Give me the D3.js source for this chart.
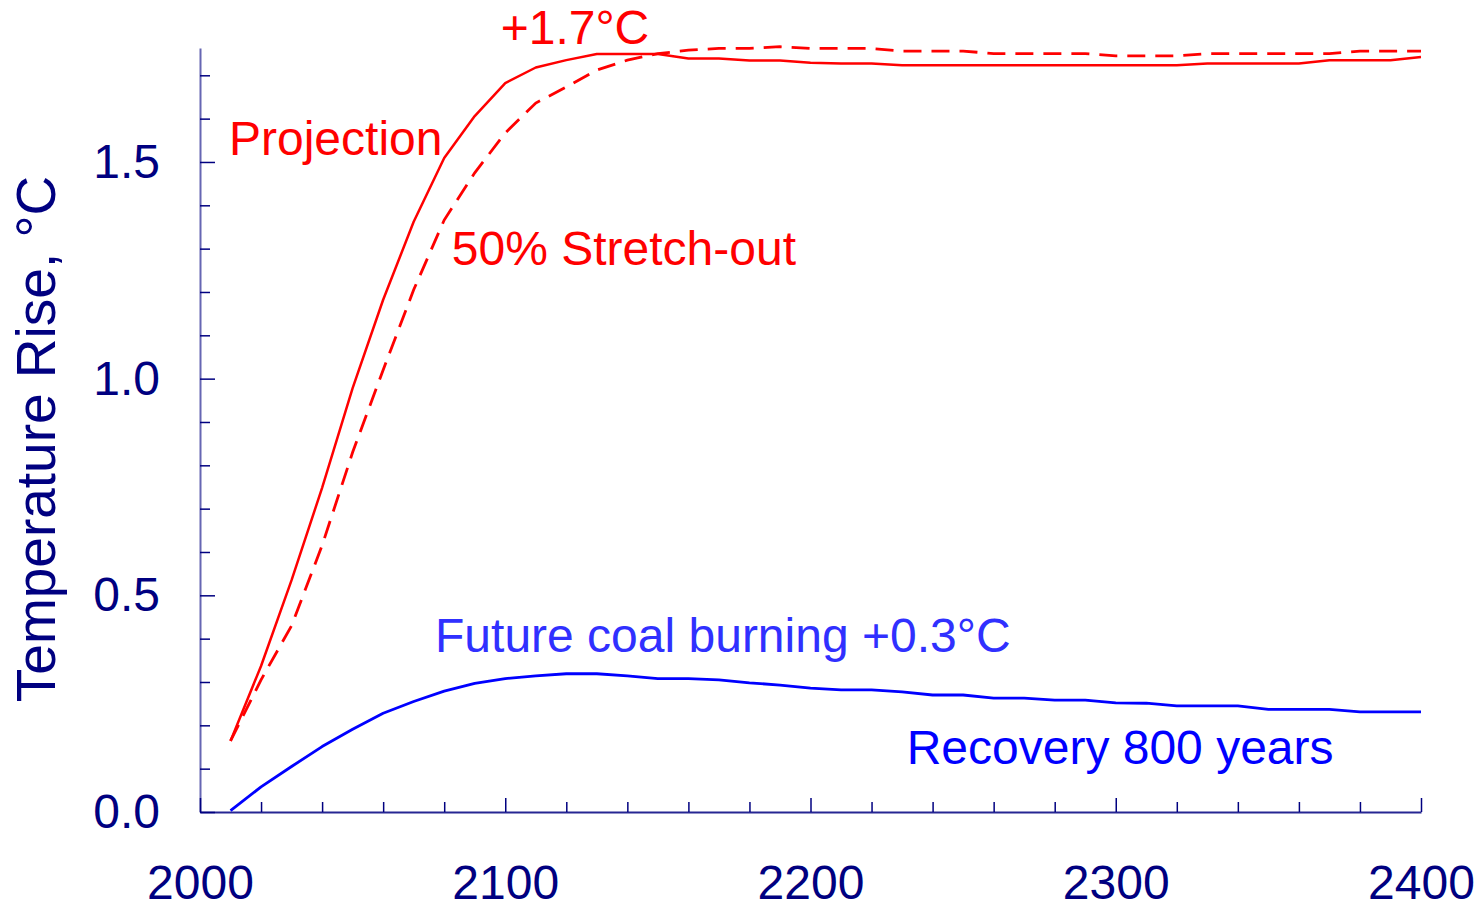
<!DOCTYPE html>
<html>
<head>
<meta charset="utf-8">
<script src="https://cdn.jsdelivr.net/npm/d3@7"></script>
<style>
  html, body { margin: 0; padding: 0; background: #fff; }
  svg { display: block; font-family: "Liberation Sans", Arial, sans-serif; }
</style>
</head>
<body>
<svg id="chart" width="1483" height="904"></svg>
<script>
const years = [2010,2020,2030,2040,2050,2060,2070,2080,2090,2100,
  2110,2120,2130,2140,2150,2160,2170,2180,2190,2200,
  2210,2220,2230,2240,2250,2260,2270,2280,2290,2300,
  2310,2320,2330,2340,2350,2360,2370,2380,2390,2400];

const projection = [0.164,0.337,0.535,0.748,0.978,1.182,1.362,1.509,1.606,1.682,
  1.718,1.735,1.749,1.749,1.749,1.739,1.739,1.734,1.734,1.729,
  1.727,1.727,1.723,1.723,1.723,1.723,1.723,1.723,1.723,1.723,
  1.723,1.723,1.727,1.727,1.727,1.727,1.735,1.735,1.735,1.742];

const stretchOut = [0.164,0.305,0.43,0.615,0.83,1.02,1.205,1.366,1.475,1.567,
  1.636,1.673,1.712,1.735,1.75,1.758,1.762,1.762,1.766,1.762,
  1.762,1.762,1.756,1.756,1.756,1.75,1.75,1.75,1.75,1.745,
  1.745,1.745,1.75,1.75,1.75,1.75,1.75,1.756,1.756,1.756];

const coal = [0.003,0.058,0.105,0.151,0.191,0.228,0.255,0.279,0.297,0.308,
  0.314,0.319,0.319,0.314,0.308,0.308,0.305,0.298,0.293,0.286,
  0.282,0.282,0.277,0.27,0.27,0.263,0.263,0.258,0.258,0.252,
  0.251,0.245,0.245,0.245,0.237,0.237,0.237,0.231,0.231,0.231];

const xMajorTicks = [2000,2100,2200,2300,2400];
const xMinorTicks = [2020,2040,2060,2080,2120,2140,2160,2180,2220,2240,2260,2280,2320,2340,2360,2380];
const yMajorTicks = [0.0,0.5,1.0,1.5];
const yMinorTicks = [0.1,0.2,0.3,0.4,0.6,0.7,0.8,0.9,1.1,1.2,1.3,1.4,1.6,1.7];

const yLabel = "Temperature Rise, °C";
const annotations = [
  {text: "+1.7°C", x: 2098.5, y: 1.772, color: "#ff0000"},
  {text: "Projection", x: 2009.5, y: 1.516, color: "#ff0000"},
  {text: "50% Stretch-out", x: 2082.5, y: 1.262, color: "#ff0000"},
  {text: "Future coal burning +0.3°C", x: 2077, y: 0.369, color: "#3030ff"},
  {text: "Recovery 800 years", x: 2231.5, y: 0.111, color: "#0000ff"}
];

const svg = d3.select("#chart");
const navy = "#000080";
const FS = 48;

const x = d3.scaleLinear().domain([2000, 2400]).range([200, 1421]);
const y = d3.scaleLinear().domain([0, 1.763]).range([812, 48]);

// X axis: minor ticks
svg.append("g").attr("transform", "translate(0,812)")
  .call(d3.axisBottom(x).tickValues(xMinorTicks).tickSize(-10).tickFormat(""))
  .call(g => g.select(".domain").remove())
  .call(g => g.selectAll("line").attr("stroke", navy).attr("stroke-width", 1.5));

// X axis: major ticks with labels
svg.append("g").attr("transform", "translate(0,812)")
  .call(d3.axisBottom(x).tickValues(xMajorTicks).tickSize(-14).tickSizeOuter(0).tickPadding(53).tickFormat(d3.format("d")))
  .call(g => g.select(".domain").attr("stroke", navy).attr("stroke-width", 2).attr("stroke-opacity", 0.85))
  .call(g => g.selectAll("line").attr("stroke", navy).attr("stroke-width", 1.5))
  .call(g => g.selectAll("text").attr("fill", navy).attr("font-size", FS).attr("font-family", "Liberation Sans, Arial, sans-serif"));

// Y axis: minor ticks
svg.append("g").attr("transform", "translate(200,0)")
  .call(d3.axisLeft(y).tickValues(yMinorTicks).tickSize(-10).tickFormat(""))
  .call(g => g.select(".domain").remove())
  .call(g => g.selectAll("line").attr("stroke", navy).attr("stroke-width", 1.5));

// Y axis: major ticks
svg.append("g").attr("transform", "translate(200,0)")
  .call(d3.axisLeft(y).tickValues(yMajorTicks).tickSize(-15).tickSizeOuter(0).tickPadding(40).tickFormat(d3.format(".1f")))
  .call(g => g.select(".domain").attr("stroke", navy).attr("stroke-width", 2).attr("stroke-opacity", 0.6))
  .call(g => g.selectAll("line").attr("stroke", navy).attr("stroke-width", 1.5))
  .call(g => g.selectAll("text").attr("fill", navy).attr("font-size", FS).attr("font-family", "Liberation Sans, Arial, sans-serif"));

// Y label
svg.append("text")
  .attr("transform", "translate(55,439) rotate(-90)")
  .attr("text-anchor", "middle")
  .attr("fill", navy)
  .attr("font-size", 55)
  .text(yLabel);

const line = d3.line().x((d, i) => x(years[i])).y(d => y(d));

svg.append("path").datum(stretchOut)
  .attr("d", line).attr("fill", "none")
  .attr("stroke", "#ff0000").attr("stroke-width", 2.8)
  .attr("stroke-dasharray", "18,10");

svg.append("path").datum(projection)
  .attr("d", line).attr("fill", "none")
  .attr("stroke", "#ff0000").attr("stroke-width", 2.5)
  .attr("stroke-linejoin", "round");

svg.append("path").datum(coal)
  .attr("d", line).attr("fill", "none")
  .attr("stroke", "#0000ff").attr("stroke-width", 2.8)
  .attr("stroke-linejoin", "round");

svg.selectAll("text.ann").data(annotations).enter().append("text")
  .attr("class", "ann")
  .attr("x", d => x(d.x))
  .attr("y", d => y(d.y))
  .attr("fill", d => d.color)
  .attr("font-size", FS)
  .text(d => d.text);
</script>
</body>
</html>
